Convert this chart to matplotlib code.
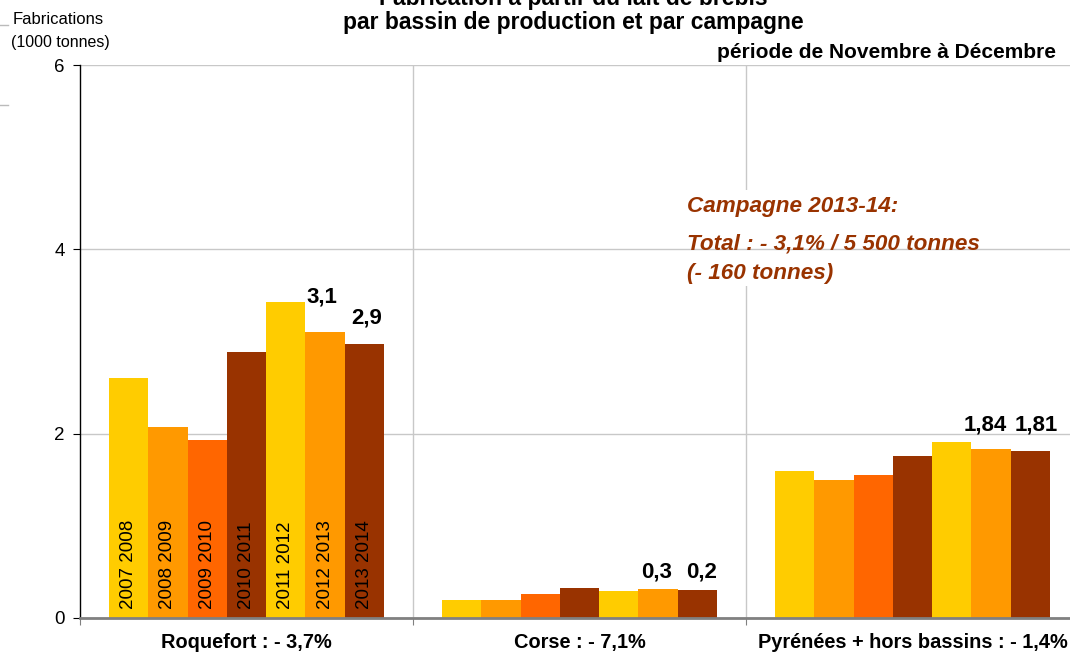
import matplotlib
matplotlib.use("Agg")
import matplotlib.pyplot as plt
from matplotlib.lines import Line2D
from matplotlib.patches import Rectangle
import numpy as np

plt.rcParams['font.family'] = ['Liberation Sans', 'DejaVu Sans']

categories = ["Roquefort : - 3,7%", "Corse : - 7,1%", "Pyrénées + hors bassins : - 1,4%"]
campaigns = ["2007 2008", "2008 2009", "2009 2010", "2010 2011", "2011 2012", "2012 2013", "2013 2014"]
roquefort = [2.60, 2.07, 1.93, 2.89, 3.43, 3.10, 2.97]
corse = [0.20, 0.20, 0.26, 0.33, 0.29, 0.32, 0.30]
pyrenees = [1.59, 1.50, 1.55, 1.76, 1.91, 1.83, 1.81]
values = [roquefort, corse, pyrenees]
colors = ["#FFCC00", "#FF9900", "#FF6600", "#993300", "#FFCC00", "#FF9900", "#993300"]
# value labels: (category index, campaign index, text)
value_labels = [(0, 5, "3,1"), (0, 6, "2,9"), (1, 5, "0,3"), (1, 6, "0,2"), (2, 5, "1,84"), (2, 6, "1,81")]
label_dx = [-3, 2, -2, 4, -6, 6]
label_dy = [35, 26, 17, 18, 24, 26]
yticks = [0, 2, 4, 6]
note_lines = ["Campagne 2013-14:", "Total : - 3,1% / 5 500 tonnes", "(- 160 tonnes)"]

W, H = 1070, 656
fig = plt.figure(figsize=(W/100, H/100), dpi=100)
ax = fig.add_axes([80/W, 38/H, 999/W, 553/H])

bw = 0.118
n = len(campaigns)
offsets = (np.arange(n) - (n - 1) / 2) * bw
for ci, vals in enumerate(values):
    for k in range(n):
        ax.bar(ci + offsets[k], vals[k], width=bw, color=colors[k], edgecolor='none', zorder=3)

# campaign labels inside Roquefort bars
for k in range(n):
    ax.text(0 + offsets[k], 0.1, campaigns[k], rotation=90, ha='center', va='bottom',
            fontsize=13.5, color='black', zorder=4)

for (ci, k, txt), dx, dy in zip(value_labels, label_dx, label_dy):
    ax.annotate(txt, (ci + offsets[k], values[ci][k]), xytext=(dx, dy), textcoords='offset pixels',
                ha='center', va='center', fontsize=16, fontweight='bold', zorder=4)

ax.set_xlim(-0.5, 2.5)
ax.set_ylim(0, 6)
ax.set_yticks(yticks)
ax.set_yticklabels([str(t) for t in yticks], fontsize=13.5)
ax.set_xticks([-0.5, 0.5, 1.5, 2.5])
ax.set_xticklabels([])
ax.set_xticks([0, 1, 2], minor=True)
ax.set_xticklabels(categories, minor=True, fontsize=14.4, fontweight='bold')
ax.tick_params(axis='x', which='minor', length=0, pad=11)
ax.tick_params(axis='x', which='major', length=5, color='#808080', direction='out')
ax.tick_params(axis='y', length=5, direction='out', pad=6)

ax.grid(axis='y', color='#C8C8C8', linewidth=1, zorder=0)
for xv in [0.5, 1.5]:
    ax.axvline(xv, color='#C8C8C8', linewidth=1, zorder=0)
ax.spines['top'].set_visible(False)
ax.spines['right'].set_visible(False)
ax.spines['left'].set_color('black')
ax.spines['left'].set_linewidth(1)
ax.spines['bottom'].set_color('#808080')
ax.spines['bottom'].set_linewidth(2)
ax.spines['bottom'].set_zorder(5)

# white box behind the note
ax.add_patch(Rectangle((1.302, 3.60), 2.401 - 1.302, 4.645 - 3.60, facecolor='white',
                       edgecolor='none', zorder=1))
for txt, yv in zip(note_lines, [4.46, 4.06, 3.74]):
    ax.text(1.323, yv, txt, ha='left', va='center', fontsize=16.2, fontweight='bold',
            style='italic', color='#993300', zorder=6)

fig.text(573/W, 1 + 2/H, "Fabrication à partir du lait de brebis", ha='center', va='center',
         fontsize=16.5, fontweight='bold')
fig.text(573/W, 1 - 23/H, "par bassin de production et par campagne", ha='center', va='center',
         fontsize=16.5, fontweight='bold')
fig.text(1056/W, 1 - 53/H, "période de Novembre à Décembre", ha='right', va='center',
         fontsize=15, fontweight='bold')
fig.text(58/W, 1 - 19/H, "Fabrications", ha='center', va='center', fontsize=12)
fig.text(60/W, 1 - 42/H, "(1000 tonnes)", ha='center', va='center', fontsize=11.5)

for yy in [25, 105]:
    fig.add_artist(Line2D([0, 8/W], [1 - yy/H, 1 - yy/H], color='#BBBBBB', linewidth=1))

fig.savefig("out.png", dpi=100)
